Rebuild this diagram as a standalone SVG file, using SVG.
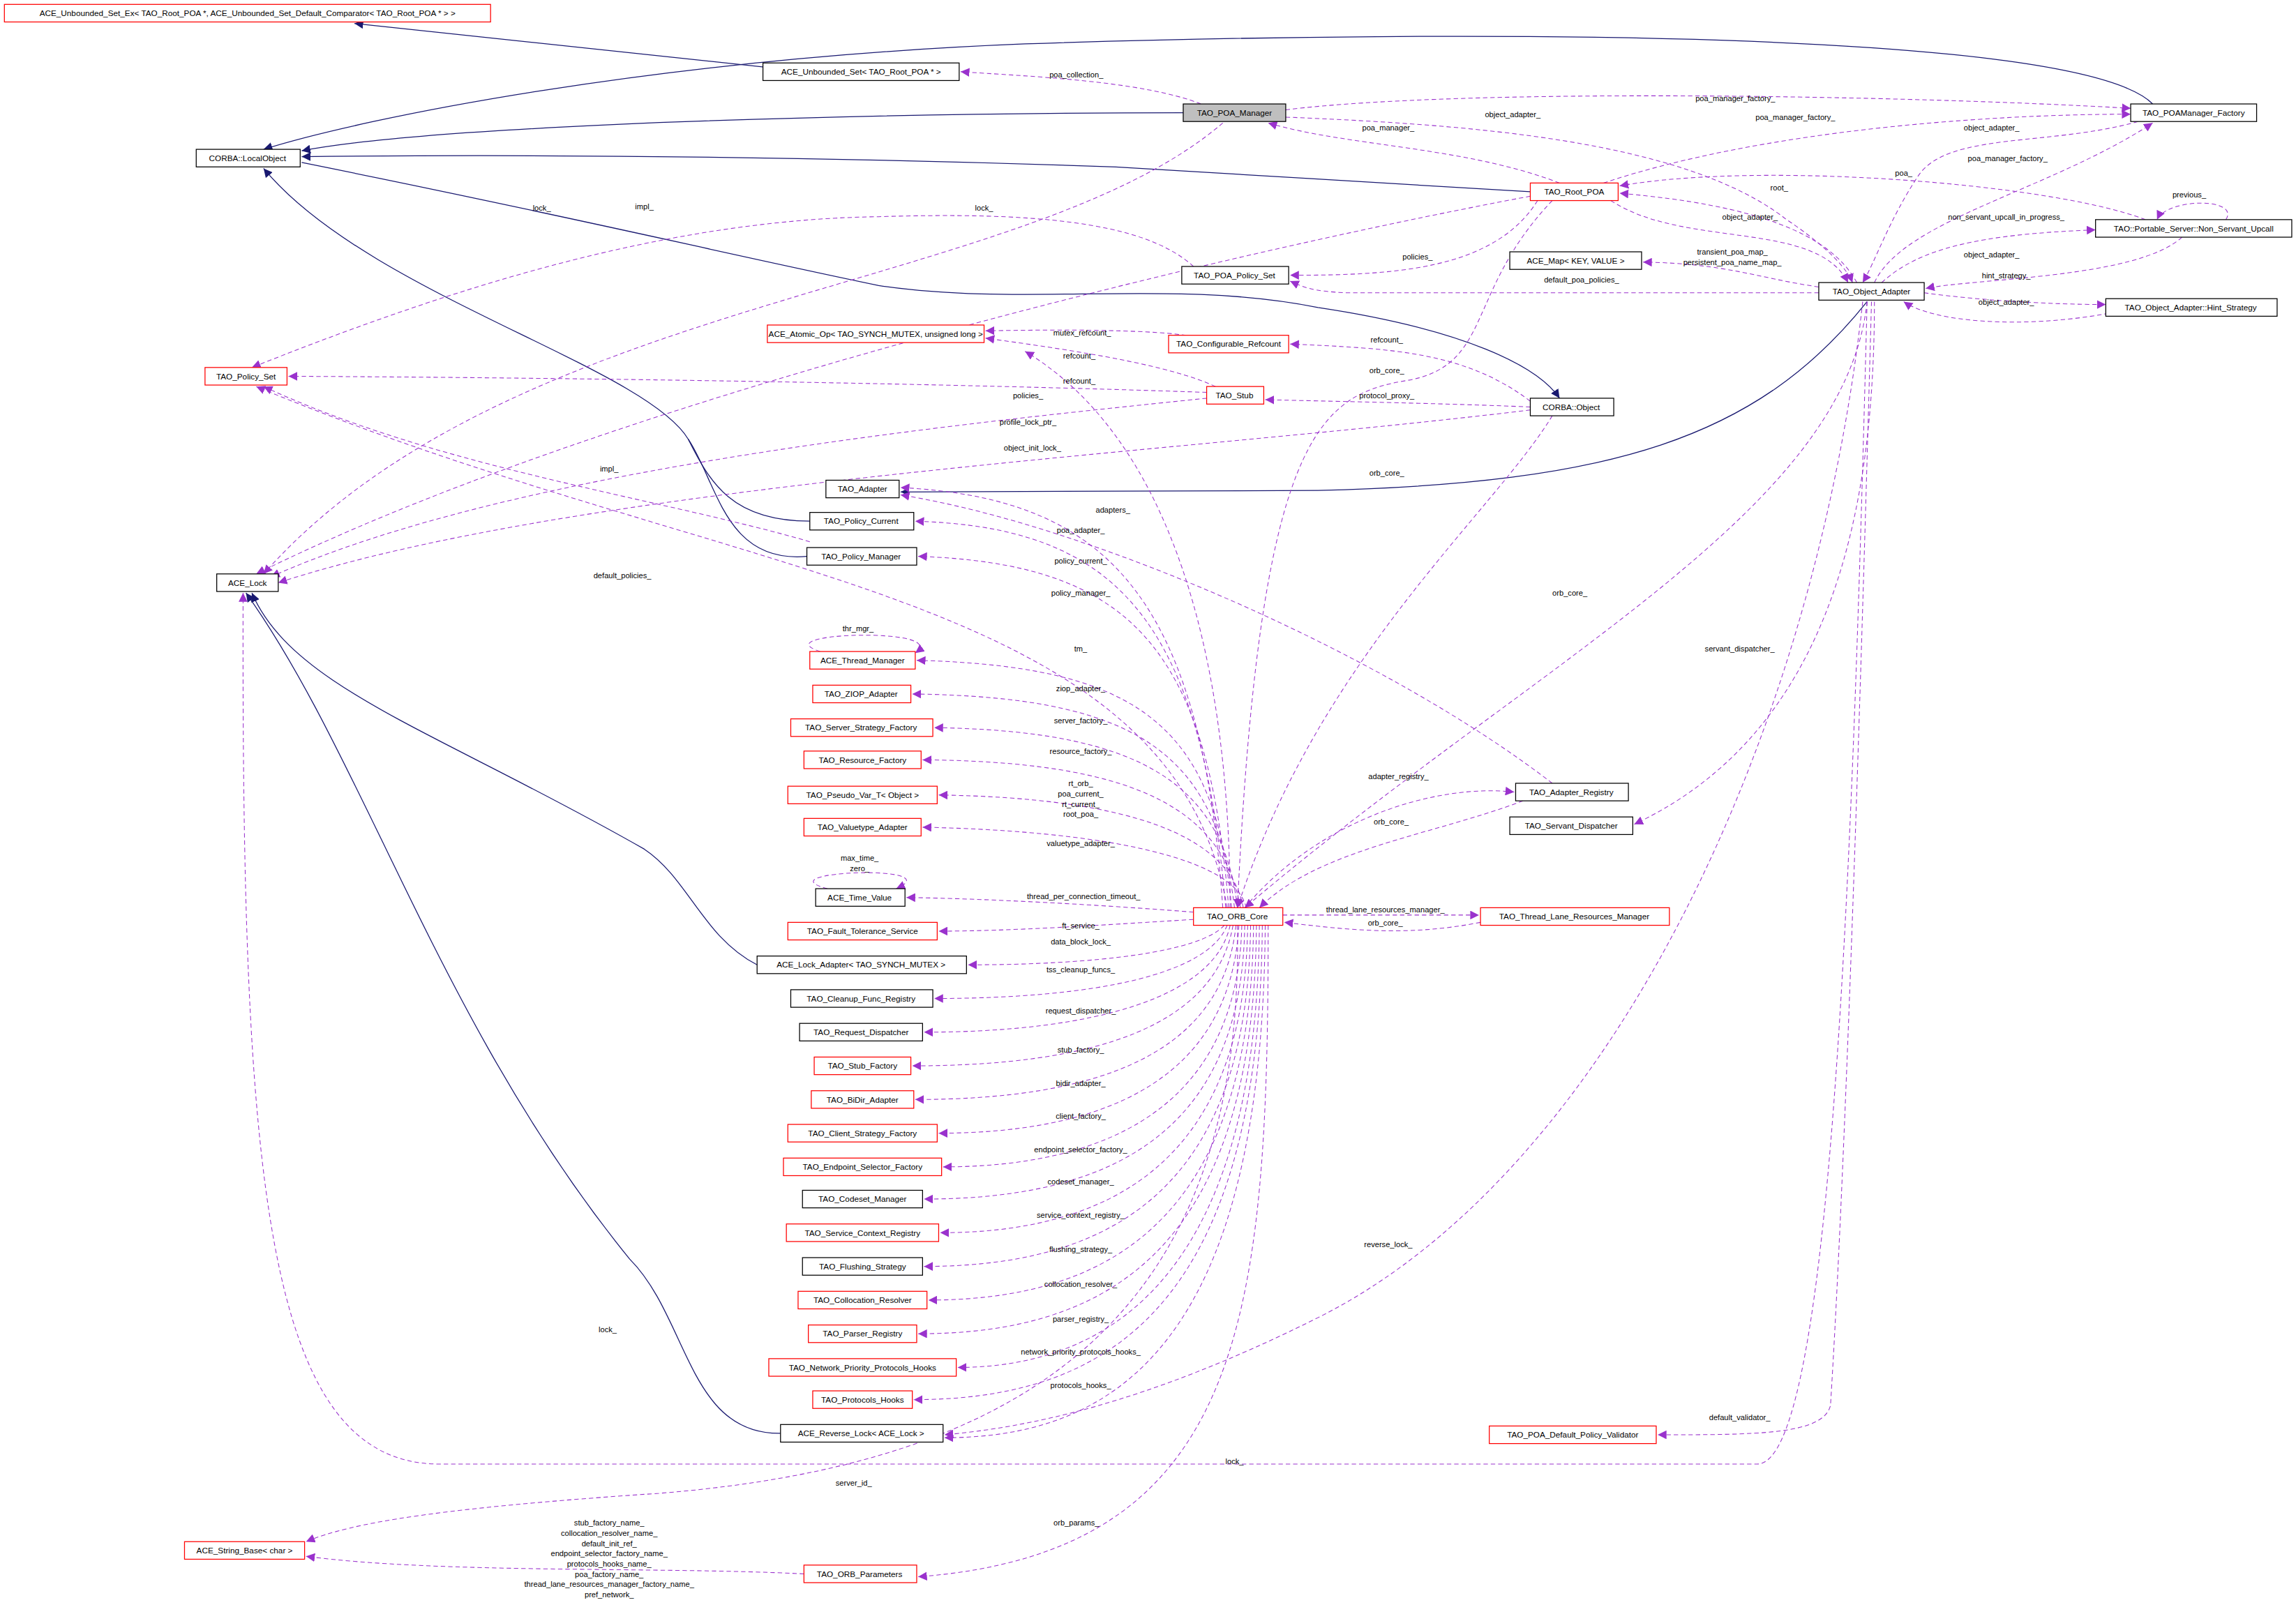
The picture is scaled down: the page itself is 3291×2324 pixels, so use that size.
<svg xmlns="http://www.w3.org/2000/svg" width="3291" height="2324" viewBox="0 0 3291 2324">
<defs>
<style>
.n rect{stroke-width:0.6}
.r{fill:#fff;stroke:#ff0000}
.b{fill:#fff;stroke:#000}
.g{fill:#bfbfbf;stroke:#000}
text{font-family:"Liberation Sans Narrow","Liberation Sans",sans-serif;font-size:5.6px;fill:#000}
.nt{text-anchor:middle}
.lb{text-anchor:middle;font-size:5.3px}
.s{fill:none;stroke:#191970;stroke-width:0.6}
.d{fill:none;stroke:#9a32cd;stroke-width:0.5;stroke-dasharray:3,2}
</style>
<marker id="ma" markerUnits="userSpaceOnUse" markerWidth="7" markerHeight="6" refX="6" refY="3" orient="auto"><path d="M0,0 L6,3 L0,6 z" fill="#191970"/></marker>
<marker id="mp" markerUnits="userSpaceOnUse" markerWidth="7" markerHeight="6" refX="6" refY="3" orient="auto"><path d="M0,0 L6,3 L0,6 z" fill="#9a32cd"/></marker>
</defs>
<rect width="3291" height="2324" fill="#fff"/>
<g transform="scale(2.099)">
<g id="connectors">
<path class="s" d="M551,380 C495,385 490,330 470,300"/>
<g marker-end="url(#ma)">
<path class="s" d="M524,46 L242,16"/>
<path class="s" d="M1470,71 C1420,20 1000,20 700,30 C450,40 250,80 180,102"/>
<path class="s" d="M808,77 C600,77 300,85 206,103"/>
<path class="s" d="M1045,131 L762,114 C500,105 300,106 206,107"/>
<path class="s" d="M206,111 C400,150 480,170 600,195 C700,210 800,190 900,210 C1000,225 1050,250 1065,272"/>
<path class="s" d="M553,356 C500,356 485,330 470,300 C440,250 250,200 180,115"/>
<path class="s" d="M1275,206 C1200,300 1100,330 900,335 L615,336"/>
<path class="s" d="M517,659 C480,640 470,600 440,580 C300,500 200,470 172,405"/>
<path class="s" d="M533,979 C470,980 470,900 430,860 C300,700 250,520 168,405"/>
</g>
<g marker-end="url(#mp)">
<path class="d" d="M820,71 C780,55 700,52 656,49"/>
<path class="d" d="M878,75 C1000,60 1300,65 1455,74"/>
<path class="d" d="M878,80 C1000,85 1150,95 1220,150 C1250,170 1262,185 1265,193"/>
<path class="d" d="M1065,125 C1000,100 920,100 866,84"/>
<path class="d" d="M1095,125 C1200,90 1350,78 1455,78"/>
<path class="d" d="M1460,83 C1400,100 1330,90 1310,120 C1290,150 1280,180 1272,193"/>
<path class="d" d="M1280,193 C1300,150 1400,130 1470,84"/>
<path class="d" d="M1268,193 C1250,160 1200,140 1106,132"/>
<path class="d" d="M1100,137 C1150,170 1240,150 1262,193"/>
<path class="d" d="M1465,150 C1400,125 1200,110 1106,127"/>
<path class="d" d="M1520,150 C1530,135 1480,135 1473,150"/>
<path class="d" d="M1285,193 C1310,170 1350,160 1431,157"/>
<path class="d" d="M1490,162 C1460,190 1350,190 1315,197"/>
<path class="d" d="M1314,200 C1350,205 1400,208 1438,208"/>
<path class="d" d="M1440,214 C1380,225 1320,220 1300,206"/>
<path class="d" d="M1242,196 C1200,190 1180,180 1122,179"/>
<path class="d" d="M1242,200 L920,200 C895,199 890,196 881,192"/>
<path class="d" d="M1050,137 C1020,185 950,188 881,188"/>
<path class="d" d="M1045,134 C800,180 400,280 175,392"/>
<path class="d" d="M835,84 C700,200 350,200 180,392"/>
<path class="d" d="M815,182 C780,150 700,145 600,148 C450,150 300,200 172,251"/>
<path class="d" d="M1045,280 C800,310 400,330 190,398"/>
<path class="d" d="M824,272 C650,290 350,320 185,394"/>
<path class="d" d="M824,268 C650,262 400,258 197,257"/>
<path class="d" d="M830,264 C800,250 740,240 673,231"/>
<path class="d" d="M810,229 C780,225 720,225 673,226"/>
<path class="d" d="M1045,274 C1000,240 950,238 881,235"/>
<path class="d" d="M1045,278 C1000,276 950,275 864,273"/>
<path class="d" d="M1060,284 C1020,350 900,450 845,620"/>
<path class="d" d="M1060,137 C1000,200 1020,250 960,260 C900,270 860,300 845,620"/>
<path class="d" d="M840,620 C840,450 800,300 700,240"/>
<path class="d" d="M553,370 C450,340 300,320 180,264"/>
<path class="d" d="M838,620 C800,400 500,400 175,264"/>
<path class="d" d="M1275,206 C1260,350 1050,450 850,620"/>
<path class="d" d="M1060,535 C950,450 750,360 615,338"/>
<path class="d" d="M850,620 C900,560 980,535 1034,541"/>
<path class="d" d="M1040,547 C980,570 900,580 860,620"/>
<path class="d" d="M876,625 L1010,625"/>
<path class="d" d="M1011,630 C960,640 920,635 877,630"/>
<path class="d" d="M1280,206 C1280,350 1250,500 1116,563"/>
<path class="d" d="M1278,206 C1270,500 1260,800 1250,960 C1245,980 1200,980 1132,980"/>
<path class="d" d="M1272,206 C1240,500 1100,800 900,900 C780,960 700,975 645,980"/>
<path class="d" d="M1275,206 C1265,600 1250,1000 1200,1000 L300,1000 C180,1000 165,800 166,405"/>
<path class="d" d="M835,620 C820,400 750,340 615,333"/>
<path class="d" d="M837,620 C820,420 760,360 625,356"/>
<path class="d" d="M839,620 C825,440 770,385 627,380"/>
<path class="d" d="M841,620 C830,490 770,455 626,451"/>
<path class="d" d="M843,620 C830,510 770,476 623,474"/>
<path class="d" d="M845,620 C835,530 770,499 638,497"/>
<path class="d" d="M847,620 C835,550 770,520 630,519"/>
<path class="d" d="M849,620 C840,570 770,545 641,543"/>
<path class="d" d="M851,620 C845,590 770,568 630,565"/>
<path class="d" d="M815,623 C750,618 680,614 619,613"/>
<path class="d" d="M815,628 C750,632 690,636 641,636"/>
<path class="d" d="M836,632 C820,650 750,659 661,659"/>
<path class="d" d="M838,632 C825,665 750,682 638,682"/>
<path class="d" d="M840,632 C830,680 750,705 631,705"/>
<path class="d" d="M842,632 C830,700 750,728 623,728"/>
<path class="d" d="M844,632 C835,720 750,751 625,751"/>
<path class="d" d="M846,632 C840,740 750,774 641,774"/>
<path class="d" d="M848,632 C845,760 750,797 644,797"/>
<path class="d" d="M850,632 C848,780 750,819 631,819"/>
<path class="d" d="M852,632 C850,800 750,842 642,842"/>
<path class="d" d="M854,632 C852,820 750,865 631,865"/>
<path class="d" d="M856,632 C854,840 750,888 634,888"/>
<path class="d" d="M858,632 C856,860 750,911 627,911"/>
<path class="d" d="M860,632 C858,880 750,934 654,934"/>
<path class="d" d="M862,632 C860,900 750,956 624,956"/>
<path class="d" d="M864,632 C862,920 760,982 645,982"/>
<path class="d" d="M845,632 C850,900 700,1000 450,1020 C300,1030 240,1040 209,1053"/>
<path class="d" d="M866,632 C866,900 850,1060 627,1077"/>
<path class="d" d="M549,1075 C450,1070 300,1075 209,1063"/>
<path class="d" d="M560,445 C520,432 650,428 625,446"/>
<path class="d" d="M565,607 C520,595 650,590 612,607"/>
</g>
</g>
<g id="labels">
<text class="lb" x="735" y="53">poa_collection_</text>
<text class="lb" x="1185" y="69">poa_manager_factory_</text>
<text class="lb" x="1033" y="80">object_adapter_</text>
<text class="lb" x="948" y="89">poa_manager_</text>
<text class="lb" x="1226" y="82">poa_manager_factory_</text>
<text class="lb" x="1360" y="89">object_adapter_</text>
<text class="lb" x="1371" y="110">poa_manager_factory_</text>
<text class="lb" x="1300" y="120">poa_</text>
<text class="lb" x="1215" y="130">root_</text>
<text class="lb" x="1495" y="135">previous_</text>
<text class="lb" x="1370" y="150">non_servant_upcall_in_progress_</text>
<text class="lb" x="1195" y="150">object_adapter_</text>
<text class="lb" x="1360" y="176">object_adapter_</text>
<text class="lb" x="1183" y="174">transient_poa_map_</text>
<text class="lb" x="1183" y="181">persistent_poa_name_map_</text>
<text class="lb" x="1370" y="190">hint_strategy_</text>
<text class="lb" x="1370" y="208">object_adapter_</text>
<text class="lb" x="1080" y="193">default_poa_policies_</text>
<text class="lb" x="968" y="177">policies_</text>
<text class="lb" x="440" y="143">impl_</text>
<text class="lb" x="370" y="144">lock_</text>
<text class="lb" x="672" y="144">lock_</text>
<text class="lb" x="947" y="234">refcount_</text>
<text class="lb" x="947" y="255">orb_core_</text>
<text class="lb" x="947" y="272">protocol_proxy_</text>
<text class="lb" x="947" y="325">orb_core_</text>
<text class="lb" x="739" y="229">mutex_refcount_</text>
<text class="lb" x="737" y="245">refcount_</text>
<text class="lb" x="737" y="262">refcount_</text>
<text class="lb" x="702" y="272">policies_</text>
<text class="lb" x="702" y="290">profile_lock_ptr_</text>
<text class="lb" x="705" y="308">object_init_lock_</text>
<text class="lb" x="760" y="350">adapters_</text>
<text class="lb" x="416" y="322">impl_</text>
<text class="lb" x="425" y="395">default_policies_</text>
<text class="lb" x="1072" y="407">orb_core_</text>
<text class="lb" x="1188" y="445">servant_dispatcher_</text>
<text class="lb" x="738" y="364">poa_adapter_</text>
<text class="lb" x="738" y="385">policy_current_</text>
<text class="lb" x="738" y="407">policy_manager_</text>
<text class="lb" x="586" y="431">thr_mgr_</text>
<text class="lb" x="738" y="445">tm_</text>
<text class="lb" x="738" y="472">ziop_adapter_</text>
<text class="lb" x="738" y="494">server_factory_</text>
<text class="lb" x="738" y="515">resource_factory_</text>
<text class="lb" x="738" y="537">rt_orb_</text>
<text class="lb" x="738" y="544">poa_current_</text>
<text class="lb" x="738" y="551">rt_current_</text>
<text class="lb" x="738" y="558">root_poa_</text>
<text class="lb" x="738" y="578">valuetype_adapter_</text>
<text class="lb" x="955" y="532">adapter_registry_</text>
<text class="lb" x="950" y="563">orb_core_</text>
<text class="lb" x="587" y="588">max_time_</text>
<text class="lb" x="587" y="595">zero_</text>
<text class="lb" x="740" y="614">thread_per_connection_timeout_</text>
<text class="lb" x="946" y="623">thread_lane_resources_manager_</text>
<text class="lb" x="946" y="632">orb_core_</text>
<text class="lb" x="738" y="634">ft_service_</text>
<text class="lb" x="738" y="645">data_block_lock_</text>
<text class="lb" x="738" y="664">tss_cleanup_funcs_</text>
<text class="lb" x="738" y="692">request_dispatcher_</text>
<text class="lb" x="738" y="719">stub_factory_</text>
<text class="lb" x="738" y="742">bidir_adapter_</text>
<text class="lb" x="738" y="764">client_factory_</text>
<text class="lb" x="738" y="787">endpoint_selector_factory_</text>
<text class="lb" x="738" y="809">codeset_manager_</text>
<text class="lb" x="738" y="832">service_context_registry_</text>
<text class="lb" x="948" y="852">reverse_lock_</text>
<text class="lb" x="738" y="855">flushing_strategy_</text>
<text class="lb" x="738" y="879">collocation_resolver_</text>
<text class="lb" x="738" y="903">parser_registry_</text>
<text class="lb" x="415" y="910">lock_</text>
<text class="lb" x="738" y="925">network_priority_protocols_hooks_</text>
<text class="lb" x="738" y="948">protocols_hooks_</text>
<text class="lb" x="1188" y="970">default_validator_</text>
<text class="lb" x="843" y="1000">lock_</text>
<text class="lb" x="583" y="1015">server_id_</text>
<text class="lb" x="735" y="1042">orb_params_</text>
<text class="lb" x="416" y="1042">stub_factory_name_</text>
<text class="lb" x="416" y="1049">collocation_resolver_name_</text>
<text class="lb" x="416" y="1056">default_init_ref_</text>
<text class="lb" x="416" y="1063">endpoint_selector_factory_name_</text>
<text class="lb" x="416" y="1070">protocols_hooks_name_</text>
<text class="lb" x="416" y="1077">poa_factory_name_</text>
<text class="lb" x="416" y="1084">thread_lane_resources_manager_factory_name_</text>
<text class="lb" x="416" y="1091">pref_network_</text>
</g>
<g id="n1" class="n"><rect class="r" x="3" y="3" width="332" height="12"/><text class="nt" x="169" y="11">ACE_Unbounded_Set_Ex&lt; TAO_Root_POA *, ACE_Unbounded_Set_Default_Comparator&lt; TAO_Root_POA * &gt; &gt;</text></g>
<g id="n2" class="n"><rect class="b" x="521" y="43" width="134" height="12"/><text class="nt" x="588" y="51">ACE_Unbounded_Set&lt; TAO_Root_POA * &gt;</text></g>
<g id="n3" class="n"><rect class="g" x="808" y="71" width="70" height="12"/><text class="nt" x="843" y="79">TAO_POA_Manager</text></g>
<g id="n4" class="n"><rect class="b" x="1455" y="71" width="86" height="12"/><text class="nt" x="1498" y="79">TAO_POAManager_Factory</text></g>
<g id="n5" class="n"><rect class="b" x="134" y="102" width="71" height="12"/><text class="nt" x="169" y="110">CORBA::LocalObject</text></g>
<g id="n6" class="n"><rect class="r" x="1045" y="125" width="60" height="12"/><text class="nt" x="1075" y="133">TAO_Root_POA</text></g>
<g id="n7" class="n"><rect class="b" x="1431" y="150" width="134" height="12"/><text class="nt" x="1498" y="158">TAO::Portable_Server::Non_Servant_Upcall</text></g>
<g id="n8" class="n"><rect class="b" x="807" y="182" width="73" height="12"/><text class="nt" x="843" y="190">TAO_POA_Policy_Set</text></g>
<g id="n9" class="n"><rect class="b" x="1031" y="172" width="90" height="12"/><text class="nt" x="1076" y="180">ACE_Map&lt; KEY, VALUE &gt;</text></g>
<g id="n10" class="n"><rect class="b" x="1242" y="193" width="72" height="12"/><text class="nt" x="1278" y="201">TAO_Object_Adapter</text></g>
<g id="n11" class="n"><rect class="b" x="1438" y="204" width="117" height="12"/><text class="nt" x="1496" y="212">TAO_Object_Adapter::Hint_Strategy</text></g>
<g id="n12" class="n"><rect class="r" x="524" y="222" width="148" height="12"/><text class="nt" x="598" y="230">ACE_Atomic_Op&lt; TAO_SYNCH_MUTEX, unsigned long &gt;</text></g>
<g id="n13" class="n"><rect class="r" x="798" y="229" width="82" height="12"/><text class="nt" x="839" y="237">TAO_Configurable_Refcount</text></g>
<g id="n14" class="n"><rect class="r" x="140" y="251" width="56" height="12"/><text class="nt" x="168" y="259">TAO_Policy_Set</text></g>
<g id="n15" class="n"><rect class="r" x="824" y="264" width="39" height="12"/><text class="nt" x="843" y="272">TAO_Stub</text></g>
<g id="n16" class="n"><rect class="b" x="1045" y="272" width="57" height="12"/><text class="nt" x="1073" y="280">CORBA::Object</text></g>
<g id="n17" class="n"><rect class="b" x="564" y="328" width="50" height="12"/><text class="nt" x="589" y="336">TAO_Adapter</text></g>
<g id="n18" class="n"><rect class="b" x="553" y="350" width="71" height="12"/><text class="nt" x="588" y="358">TAO_Policy_Current</text></g>
<g id="n19" class="n"><rect class="b" x="551" y="374" width="75" height="12"/><text class="nt" x="588" y="382">TAO_Policy_Manager</text></g>
<g id="n20" class="n"><rect class="b" x="148" y="392" width="42" height="12"/><text class="nt" x="169" y="400">ACE_Lock</text></g>
<g id="n21" class="n"><rect class="r" x="553" y="445" width="72" height="12"/><text class="nt" x="589" y="453">ACE_Thread_Manager</text></g>
<g id="n22" class="n"><rect class="r" x="555" y="468" width="67" height="12"/><text class="nt" x="588" y="476">TAO_ZIOP_Adapter</text></g>
<g id="n23" class="n"><rect class="r" x="540" y="491" width="97" height="12"/><text class="nt" x="588" y="499">TAO_Server_Strategy_Factory</text></g>
<g id="n24" class="n"><rect class="r" x="549" y="513" width="80" height="12"/><text class="nt" x="589" y="521">TAO_Resource_Factory</text></g>
<g id="n25" class="n"><rect class="r" x="538" y="537" width="102" height="12"/><text class="nt" x="589" y="545">TAO_Pseudo_Var_T&lt; Object &gt;</text></g>
<g id="n26" class="n"><rect class="r" x="549" y="559" width="80" height="12"/><text class="nt" x="589" y="567">TAO_Valuetype_Adapter</text></g>
<g id="n27" class="n"><rect class="b" x="557" y="607" width="61" height="12"/><text class="nt" x="587" y="615">ACE_Time_Value</text></g>
<g id="n28" class="n"><rect class="r" x="538" y="630" width="102" height="12"/><text class="nt" x="589" y="638">TAO_Fault_Tolerance_Service</text></g>
<g id="n29" class="n"><rect class="b" x="517" y="653" width="143" height="12"/><text class="nt" x="588" y="661">ACE_Lock_Adapter&lt; TAO_SYNCH_MUTEX &gt;</text></g>
<g id="n30" class="n"><rect class="b" x="540" y="676" width="97" height="12"/><text class="nt" x="588" y="684">TAO_Cleanup_Func_Registry</text></g>
<g id="n31" class="n"><rect class="b" x="546" y="699" width="84" height="12"/><text class="nt" x="588" y="707">TAO_Request_Dispatcher</text></g>
<g id="n32" class="n"><rect class="r" x="556" y="722" width="66" height="12"/><text class="nt" x="589" y="730">TAO_Stub_Factory</text></g>
<g id="n33" class="n"><rect class="r" x="554" y="745" width="70" height="12"/><text class="nt" x="589" y="753">TAO_BiDir_Adapter</text></g>
<g id="n34" class="n"><rect class="r" x="538" y="768" width="102" height="12"/><text class="nt" x="589" y="776">TAO_Client_Strategy_Factory</text></g>
<g id="n35" class="n"><rect class="r" x="535" y="791" width="108" height="12"/><text class="nt" x="589" y="799">TAO_Endpoint_Selector_Factory</text></g>
<g id="n36" class="n"><rect class="b" x="548" y="813" width="82" height="12"/><text class="nt" x="589" y="821">TAO_Codeset_Manager</text></g>
<g id="n37" class="n"><rect class="r" x="537" y="836" width="104" height="12"/><text class="nt" x="589" y="844">TAO_Service_Context_Registry</text></g>
<g id="n38" class="n"><rect class="b" x="548" y="859" width="82" height="12"/><text class="nt" x="589" y="867">TAO_Flushing_Strategy</text></g>
<g id="n39" class="n"><rect class="r" x="545" y="882" width="88" height="12"/><text class="nt" x="589" y="890">TAO_Collocation_Resolver</text></g>
<g id="n40" class="n"><rect class="r" x="552" y="905" width="74" height="12"/><text class="nt" x="589" y="913">TAO_Parser_Registry</text></g>
<g id="n41" class="n"><rect class="r" x="525" y="928" width="128" height="12"/><text class="nt" x="589" y="936">TAO_Network_Priority_Protocols_Hooks</text></g>
<g id="n42" class="n"><rect class="r" x="555" y="950" width="68" height="12"/><text class="nt" x="589" y="958">TAO_Protocols_Hooks</text></g>
<g id="n43" class="n"><rect class="b" x="533" y="973" width="111" height="12"/><text class="nt" x="588" y="981">ACE_Reverse_Lock&lt; ACE_Lock &gt;</text></g>
<g id="n44" class="n"><rect class="r" x="815" y="620" width="61" height="12"/><text class="nt" x="845" y="628">TAO_ORB_Core</text></g>
<g id="n45" class="n"><rect class="b" x="1035" y="535" width="77" height="12"/><text class="nt" x="1073" y="543">TAO_Adapter_Registry</text></g>
<g id="n46" class="n"><rect class="b" x="1031" y="558" width="84" height="12"/><text class="nt" x="1073" y="566">TAO_Servant_Dispatcher</text></g>
<g id="n47" class="n"><rect class="r" x="1011" y="620" width="129" height="12"/><text class="nt" x="1075" y="628">TAO_Thread_Lane_Resources_Manager</text></g>
<g id="n48" class="n"><rect class="r" x="1017" y="974" width="114" height="12"/><text class="nt" x="1074" y="982">TAO_POA_Default_Policy_Validator</text></g>
<g id="n49" class="n"><rect class="r" x="126" y="1053" width="82" height="12"/><text class="nt" x="167" y="1061">ACE_String_Base&lt; char &gt;</text></g>
<g id="n50" class="n"><rect class="r" x="549" y="1069" width="77" height="12"/><text class="nt" x="587" y="1077">TAO_ORB_Parameters</text></g>
</g>
</svg>
